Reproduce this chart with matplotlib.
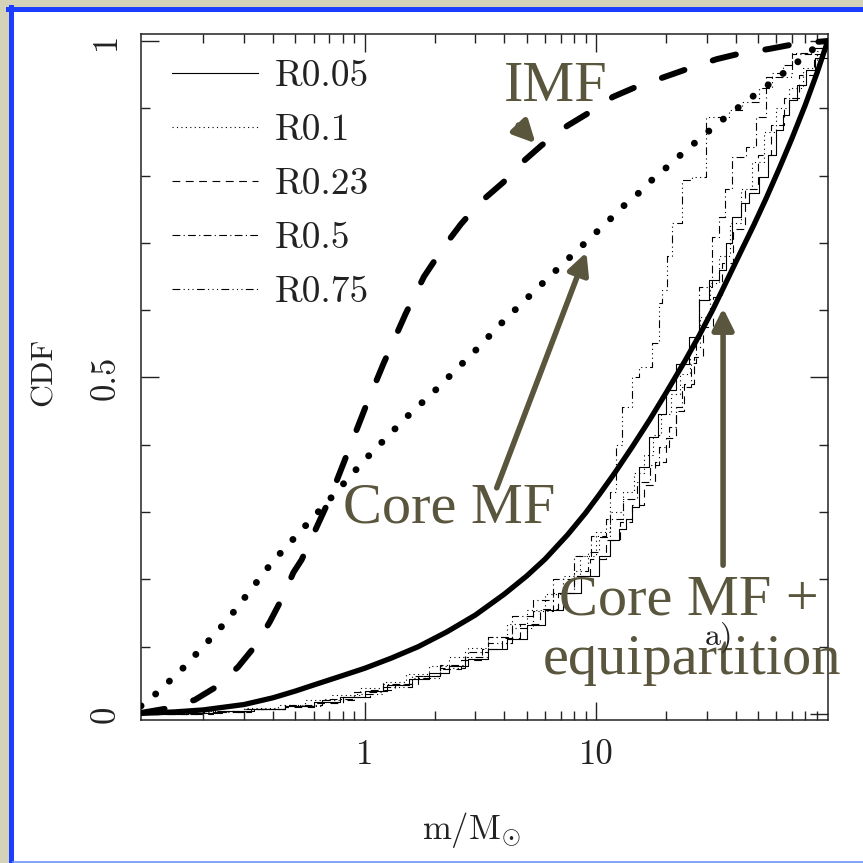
import numpy as np
import matplotlib
matplotlib.use('Agg')
import matplotlib.pyplot as plt
from matplotlib.patches import Rectangle
from matplotlib.lines import Line2D

plt.rcParams['font.family'] = ['cmr10', 'DejaVu Serif']
plt.rcParams['mathtext.fontset'] = 'cm'
plt.rcParams['axes.formatter.use_mathtext'] = True

# --- analytic curves (thick) ---
imf_m = [0.1076, 0.144, 0.184, 0.232, 0.283, 0.338, 0.388, 0.443, 0.490, 0.532, 0.7, 1.0, 1.2, 1.5, 1.8,
         2.2, 2.6, 3.14, 3.96, 4.83, 5.8, 7.49, 9.14, 11.8, 14.9, 19.5, 25.0, 33.1, 42.5, 55.4, 73.5, 100]
imf_c = [0.0015, 0.009, 0.021, 0.042, 0.070, 0.1025, 0.137, 0.175, 0.21, 0.229, 0.318, 0.454, 0.52, 0.595,
         0.65, 0.695, 0.728, 0.76, 0.79, 0.821, 0.845, 0.874, 0.892, 0.917, 0.932, 0.946, 0.959, 0.973,
         0.982, 0.988, 0.996, 1.0]

coremf_m = [0.1076, 0.110, 0.127, 0.146, 0.168, 0.192, 0.218, 0.249, 0.280, 0.315, 0.355, 0.398, 0.7, 1.0,
            1.5, 2.0, 3.0, 4.0, 6.5, 10.3, 11.7, 13.5, 15.6, 17.8, 20.6, 23.7, 27.6, 32.1, 37.2, 43.6,
            51.1, 59.5, 69.4, 80.8, 94, 100]
coremf_c = [0.012, 0.015, 0.032, 0.052, 0.072, 0.094, 0.114, 0.136, 0.158, 0.181, 0.204, 0.226, 0.318, 0.378,
            0.44, 0.48, 0.54, 0.585, 0.655, 0.72, 0.738, 0.759, 0.777, 0.797, 0.815, 0.834, 0.853, 0.872,
            0.890, 0.908, 0.926, 0.943, 0.961, 0.979, 0.999, 1.0]

equip_m = [0.108, 0.15, 0.2, 0.3, 0.4, 0.5, 0.6, 0.8, 1.0, 1.3, 1.7, 2.26, 3.0, 4.0, 5.0, 6.0, 7.5, 9.0,
           10.3, 12.0, 14.3, 17.0, 20.0, 24.0, 27.8, 32.0, 36.2, 42.0, 48.0, 54.0, 62.0, 70.0, 80.0, 90.0, 100]
equip_c = [0.001, 0.003, 0.006, 0.014, 0.024, 0.034, 0.043, 0.057, 0.068, 0.083, 0.100, 0.122, 0.147, 0.178,
           0.205, 0.230, 0.266, 0.299, 0.326, 0.358, 0.397, 0.437, 0.477, 0.523, 0.562, 0.602, 0.640, 0.686,
           0.727, 0.765, 0.812, 0.855, 0.905, 0.953, 1.0]

# --- simulation CDFs (thin, steps) ---
r005_m = [0.108, 0.17, 0.24, 0.33, 0.45, 0.6, 0.78, 1.0, 1.25, 1.55, 1.9, 2.3, 2.8, 3.4, 4.1, 5.0, 6.0,
          7.2, 8.6, 10.3, 11.4, 12.5, 13.5, 14.3, 15.3, 16.9, 18.5, 20.0, 22.0, 25.2, 27.8, 30.7, 33.9,
          36.5, 38.6, 42.0, 45.6, 50.4, 55.0, 59.7, 64.0, 67.9, 74.0, 80.4, 88.0, 100]
r005_c = [0.0, 0.002, 0.005, 0.008, 0.012, 0.018, 0.025, 0.034, 0.043, 0.052, 0.061, 0.071, 0.082, 0.096,
          0.112, 0.132, 0.155, 0.18, 0.205, 0.235, 0.258, 0.275, 0.29, 0.308, 0.367, 0.412, 0.445, 0.481,
          0.52, 0.56, 0.615, 0.645, 0.66, 0.7, 0.739, 0.76, 0.774, 0.798, 0.83, 0.868, 0.89, 0.912, 0.935,
          0.957, 0.975, 1.0]

r01_m = [0.108, 0.2, 0.3, 0.42, 0.55, 0.72, 0.95, 1.2, 1.5, 1.9, 2.3, 2.8, 3.4, 4.1, 5.0, 6.0, 7.2, 8.5,
         10.0, 11.5, 13.0, 14.5, 16.0, 17.5, 19.0, 21.0, 23.0, 25.5, 28.0, 31.0, 34.0, 38.0, 42.0, 47.0,
         53.0, 60.0, 68.0, 78.0, 90.0, 100]
r01_c = [0.001, 0.004, 0.009, 0.014, 0.02, 0.028, 0.038, 0.048, 0.059, 0.071, 0.084, 0.098, 0.115, 0.134,
         0.155, 0.178, 0.205, 0.235, 0.27, 0.3, 0.33, 0.358, 0.385, 0.415, 0.445, 0.475, 0.505, 0.545, 0.59,
         0.64, 0.68, 0.73, 0.78, 0.82, 0.865, 0.9, 0.93, 0.96, 0.985, 1.0]

r023_m = [0.108, 0.22, 0.32, 0.45, 0.6, 0.8, 1.05, 1.35, 1.7, 2.1, 2.6, 3.2, 3.9, 4.7, 5.7, 6.8, 8.0, 9.4,
          11.0, 12.6, 14.2, 16.0, 18.0, 20.0, 22.0, 24.0, 26.5, 29.0, 32.0, 35.0, 39.0, 44.0, 50.0, 57.0,
          65.0, 75.0, 87.0, 100]
r023_c = [0.0, 0.003, 0.007, 0.011, 0.017, 0.025, 0.035, 0.045, 0.056, 0.067, 0.08, 0.096, 0.113, 0.133,
          0.156, 0.18, 0.205, 0.23, 0.258, 0.285, 0.31, 0.34, 0.375, 0.41, 0.45, 0.49, 0.53, 0.575, 0.62,
          0.67, 0.72, 0.78, 0.83, 0.875, 0.915, 0.95, 0.98, 1.0]

r05_m = [0.108, 0.2, 0.3, 0.45, 0.65, 0.9, 1.2, 1.6, 2.1, 2.7, 3.4, 4.3, 5.3, 6.5, 8.0, 9.5, 11.0, 13.0,
         15.0, 17.0, 18.7, 20.6, 22.1, 23.5, 25.7, 27.0, 27.8, 31.6, 33.9, 36.0, 38.6, 44.3, 48.9, 54.1,
         57.4, 64.0, 70.0, 85.0, 100]
r05_c = [0.001, 0.004, 0.008, 0.014, 0.022, 0.032, 0.044, 0.057, 0.073, 0.092, 0.115, 0.145, 0.17, 0.2,
         0.235, 0.265, 0.29, 0.32, 0.345, 0.37, 0.397, 0.426, 0.456, 0.486, 0.521, 0.56, 0.634, 0.709, 0.739,
         0.78, 0.828, 0.843, 0.887, 0.946, 0.952, 0.965, 0.98, 0.99, 1.0]

r075_m = [0.108, 0.2, 0.3, 0.45, 0.65, 0.9, 1.2, 1.6, 2.1, 2.7, 3.4, 4.3, 5.3, 6.5, 8.0, 9.2, 10.3, 11.4,
          12.2, 12.9, 14.3, 15.3, 17.4, 18.7, 19.2, 20.2, 21.3, 23.5, 25.9, 29.8, 32.9, 37.4, 42.6, 50.4,
          57.4, 69.3, 70.0, 85.0, 100]
r075_c = [0.0, 0.003, 0.007, 0.012, 0.02, 0.029, 0.04, 0.053, 0.068, 0.085, 0.105, 0.128, 0.153, 0.18,
          0.213, 0.24, 0.263, 0.33, 0.4, 0.456, 0.5, 0.516, 0.551, 0.61, 0.63, 0.68, 0.73, 0.793, 0.798,
          0.887, 0.887, 0.897, 0.909, 0.93, 0.946, 0.952, 0.982, 0.99, 1.0]

labels = ['R0.05', 'R0.1', 'R0.23', 'R0.5', 'R0.75']

W = 863
fig = plt.figure(figsize=(8.63, 8.63), dpi=100)
fig.patch.set_facecolor('#d5d2ba')
# slide frame: white panel, thick blue top/left, thin light blue bottom
fig.add_artist(Rectangle((10 / W, 0), 1.0, 1 - 10 / W, transform=fig.transFigure,
                         facecolor='white', edgecolor='none', zorder=0))
fig.add_artist(Line2D([10.5 / W, 10.5 / W], [0, 1 - 7 / W], transform=fig.transFigure,
                      color='#1a3dff', lw=3.6, zorder=1))
fig.add_artist(Line2D([8 / W, 1], [1 - 9.5 / W, 1 - 9.5 / W], transform=fig.transFigure,
                      color='#1a3dff', lw=3.6, zorder=1))
fig.add_artist(Line2D([13 / W, 1], [1.3 / W, 1.3 / W], transform=fig.transFigure,
                      color='#7090ff', lw=1.2, zorder=1))

ax = fig.add_axes([141 / W, (W - 720) / W, 686.7 / W, 686 / W])
ax.set_xscale('log')

sim = [(r005_m, r005_c, '-'),
       (r01_m, r01_c, (0, (1, 3))),
       (r023_m, r023_c, (0, (7, 5))),
       (r05_m, r05_c, (0, (7, 3, 1, 3))),
       (r075_m, r075_c, (0, (7, 3, 1, 3, 1, 3, 1, 3)))]
for (m, c, ls), lab in zip(sim, labels):
    ax.plot(m, c, drawstyle='steps-post', color='black', lw=0.8, ls=ls, label=lab)

ax.plot(equip_m, equip_c, color='black', lw=3.8, solid_capstyle='round', zorder=4)
ax.plot(coremf_m, coremf_c, color='black', lw=5, ls=(0, (0.01, 2.7)), dash_capstyle='round', zorder=4)
ax.plot(imf_m, imf_c, color='black', lw=4.3, ls=(0, (4, 5)), dash_capstyle='round', zorder=4)

ax.set_xlim(0.1076, 100)
ax.set_ylim(-0.009, 1.0104)

ax.set_xticks([1, 10])
ax.set_xticklabels(['1', '10'])
ax.set_yticks([0, 0.5, 1])
ax.set_yticklabels(['0', '0.5', '1'])
ax.set_yticks(np.arange(0.1, 1.0, 0.1), minor=True)
ax.tick_params(which='both', direction='in', top=True, right=True, width=1.0, color='#222222')
ax.tick_params(which='major', length=13, labelsize=25, pad=14, labelcolor='#222222')
ax.tick_params(which='minor', length=6.5)
ax.tick_params(axis='y', labelrotation=90)
for lbl in ax.get_yticklabels():
    lbl.set_va('center')
for s in ax.spines.values():
    s.set_linewidth(1.1)
    s.set_color('#222222')

ax.set_xlabel(r'm/M$_{\odot}$', fontsize=25, color='#222222')
ax.xaxis.set_label_coords((472 - 141) / 686.7, -(810 - 720) / 686)
ax.set_ylabel('CDF', fontsize=23, color='#222222')
ax.yaxis.set_label_coords(-(141 - 58) / 686.7, (720 - 372) / 686)

leg = ax.legend(loc='upper left', bbox_to_anchor=(31 / 686.7, 1 - 26 / 686), frameon=False, fontsize=27,
                handlelength=2.3, handletextpad=0.45, labelspacing=0.55, borderpad=0, borderaxespad=0)
for t in leg.get_texts():
    t.set_color('#222222')

olive = '#5a553d'
ann = dict(color=olive, family='Liberation Serif', fontsize=42, ha='center', va='center')
ax.text(6.66, 0.932, 'IMF', **ann)
ax.text(2.30, 0.306, 'Core MF', **ann)
ax.text(25.2, 0.168, 'Core MF +', **ann)
ax.text(25.9, 0.080, 'equipartition', **ann)
ax.text(33.9, 0.114, 'a)', fontsize=23, color='#222222', ha='center', va='center', zorder=6)

arrow = dict(arrowstyle='-|>', color=olive, lw=4, mutation_scale=32, shrinkA=0, shrinkB=0)
ax.annotate('', xy=(5.46, 0.848), xytext=(4.6, 0.875), arrowprops=arrow, zorder=5)
ax.annotate('', xy=(9.06, 0.686), xytext=(3.71, 0.336), arrowprops=arrow, zorder=5)
ax.annotate('', xy=(35.3, 0.603), xytext=(35.3, 0.221), arrowprops=arrow, zorder=5)

fig.savefig('out.png', dpi=100, facecolor=fig.get_facecolor())
